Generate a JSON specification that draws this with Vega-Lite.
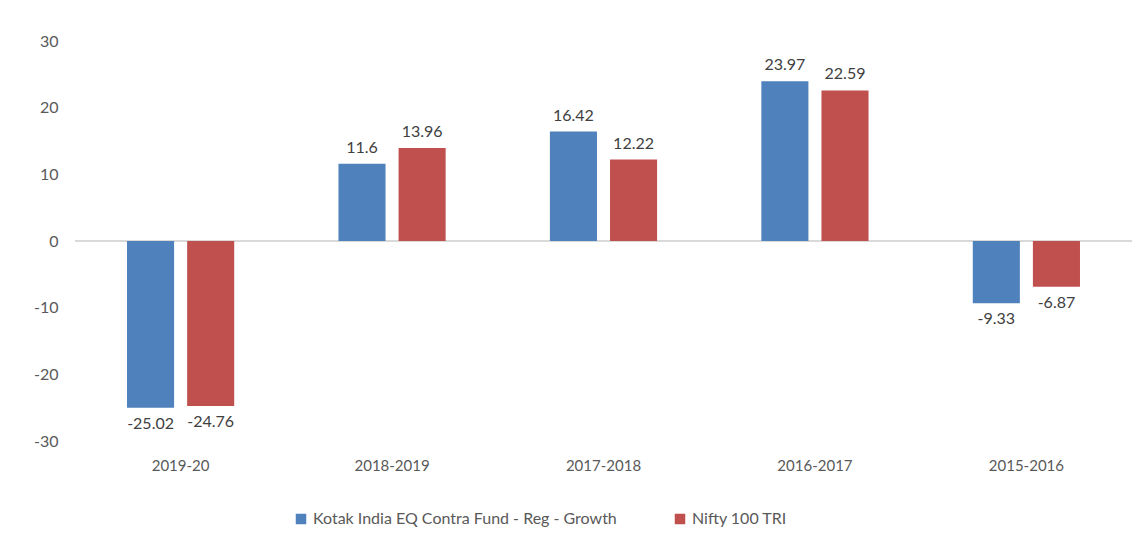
{
  "$schema": "https://vega.github.io/schema/vega-lite/v6.json",
  "autosize": {"type": "none"},
  "width": 1057,
  "height": 400,
  "padding": {"left": 75, "top": 41, "right": 14, "bottom": 106},
  "background": "white",
  "config": {
    "font": "Lato",
    "view": {"stroke": null}
  },
  "data": {
    "values": [
      {"year": "2019-20", "series": "Kotak India EQ Contra Fund - Reg - Growth", "value": -25.02, "label": "-25.02"},
      {"year": "2019-20", "series": "Nifty 100 TRI", "value": -24.76, "label": "-24.76"},
      {"year": "2018-2019", "series": "Kotak India EQ Contra Fund - Reg - Growth", "value": 11.6, "label": "11.6"},
      {"year": "2018-2019", "series": "Nifty 100 TRI", "value": 13.96, "label": "13.96"},
      {"year": "2017-2018", "series": "Kotak India EQ Contra Fund - Reg - Growth", "value": 16.42, "label": "16.42"},
      {"year": "2017-2018", "series": "Nifty 100 TRI", "value": 12.22, "label": "12.22"},
      {"year": "2016-2017", "series": "Kotak India EQ Contra Fund - Reg - Growth", "value": 23.97, "label": "23.97"},
      {"year": "2016-2017", "series": "Nifty 100 TRI", "value": 22.59, "label": "22.59"},
      {"year": "2015-2016", "series": "Kotak India EQ Contra Fund - Reg - Growth", "value": -9.33, "label": "-9.33"},
      {"year": "2015-2016", "series": "Nifty 100 TRI", "value": -6.87, "label": "-6.87"}
    ]
  },
  "encoding": {
    "x": {
      "field": "year", "type": "nominal", "sort": null,
      "scale": {"paddingInner": 0.493, "paddingOuter": 0.246},
      "axis": {"title": null, "domain": false, "ticks": false, "labelAngle": 0, "labelPadding": 17, "labelFontSize": 15, "labelColor": "#595959"}
    },
    "y": {
      "field": "value", "type": "quantitative",
      "scale": {"domain": [-30, 30], "nice": false, "zero": false},
      "axis": {"title": null, "domain": false, "ticks": false, "grid": false, "values": [-30, -20, -10, 0, 10, 20, 30], "labelPadding": 17, "labelFontSize": 16, "labelColor": "#595959", "labelExpr": "toString(datum.value)"}
    },
    "xOffset": {"field": "series", "type": "nominal", "sort": null, "scale": {"paddingInner": 0.217}}
  },
  "layer": [
    {
      "mark": {"type": "rule", "color": "#d9d9d9", "strokeWidth": 1},
      "encoding": {"y": {"datum": 0}, "x": null, "xOffset": null}
    },
    {
      "mark": {"type": "bar"},
      "encoding": {
        "color": {
          "field": "series", "type": "nominal", "sort": null,
          "scale": {"domain": ["Kotak India EQ Contra Fund - Reg - Growth", "Nifty 100 TRI"], "range": ["#4f81bd", "#c0504d"]},
          "legend": {
            "title": null, "orient": "none", "direction": "horizontal",
            "legendX": 218, "legendY": 470,
            "symbolType": "square", "symbolSize": 110, "symbolStrokeWidth": 0,
            "labelFontSize": 16, "labelColor": "#595959", "labelLimit": 0, "columnPadding": 55, "labelOffset": 4
          }
        }
      }
    },
    {
      "transform": [{"filter": "datum.value >= 0"}],
      "mark": {"type": "text", "baseline": "bottom", "dy": -8, "fontSize": 16, "color": "#404040"},
      "encoding": {"text": {"field": "label", "type": "nominal"}}
    },
    {
      "transform": [{"filter": "datum.value < 0"}],
      "mark": {"type": "text", "baseline": "top", "dy": 8, "fontSize": 16, "color": "#404040"},
      "encoding": {"text": {"field": "label", "type": "nominal"}}
    }
  ]
}
